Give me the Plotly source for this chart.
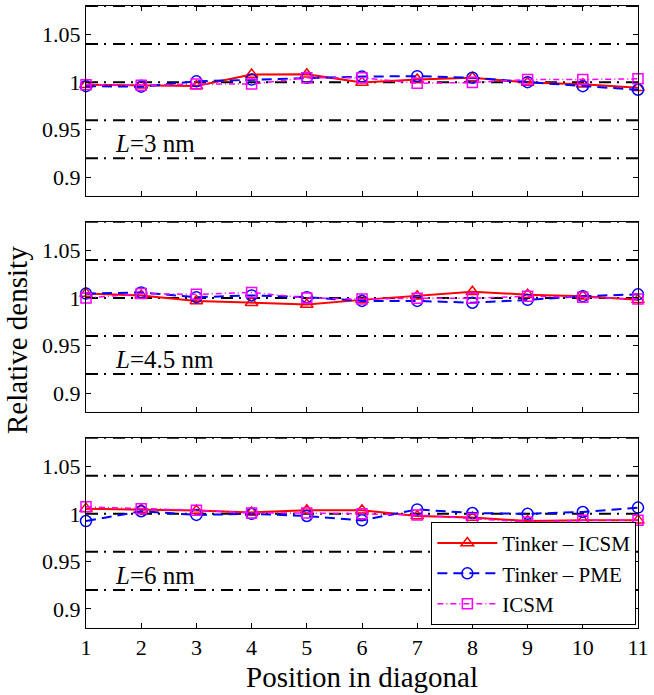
import plotly.graph_objects as go

positions = [1, 2, 3, 4, 5, 6, 7, 8, 9, 10, 11]
panel_labels = ["<i>L</i>=3 nm", "<i>L</i>=4.5 nm", "<i>L</i>=6 nm"]

# Tinker - ICSM
tinker_icsm_3 = [0.9973, 0.9966, 0.9960, 1.0080, 1.0083, 0.9995, 1.0027, 1.0046, 0.9996, 0.9977, 0.9942]
tinker_icsm_45 = [1.0046, 1.0027, 0.9969, 0.9950, 0.9931, 0.9980, 1.0019, 1.0065, 1.0035, 1.0019, 0.9980]
tinker_icsm_6 = [1.0054, 1.0046, 1.0034, 1.0015, 1.0038, 1.0038, 0.9977, 0.9962, 0.9924, 0.9931, 0.9931]
# Tinker - PME
tinker_pme_3 = [0.9958, 0.9952, 1.0008, 1.0027, 1.0046, 1.0058, 1.0063, 1.0046, 1.0000, 0.9958, 0.9920]
tinker_pme_45 = [1.0046, 1.0058, 1.0008, 1.0027, 1.0008, 0.9969, 0.9969, 0.9950, 0.9980, 1.0019, 1.0038]
tinker_pme_6 = [0.9924, 1.0027, 0.9988, 1.0000, 0.9977, 0.9931, 1.0046, 1.0008, 1.0000, 1.0019, 1.0065]
# ICSM
icsm_3 = [0.9973, 0.9966, 0.9980, 0.9980, 1.0046, 1.0046, 0.9988, 0.9996, 1.0027, 1.0027, 1.0035]
icsm_45 = [1.0000, 1.0046, 1.0038, 1.0058, 1.0000, 0.9988, 0.9996, 0.9996, 1.0019, 1.0008, 0.9988]
icsm_6 = [1.0073, 1.0054, 1.0038, 1.0008, 1.0008, 1.0000, 0.9988, 0.9950, 0.9912, 0.9931, 0.9931]

ref_levels = [0.92, 0.96, 1.00, 1.04, 1.08]
y_tickvals = [0.9, 0.95, 1.0, 1.05]
y_ticktext = ["0.9", "0.95", "1", "1.05"]
x_tickvals = positions
x_ticktext = [str(p) for p in positions]

series_names = ["Tinker \u2013 ICSM", "Tinker \u2013 PME", "ICSM"]
panels = [
    [tinker_icsm_3, tinker_pme_3, icsm_3],
    [tinker_icsm_45, tinker_pme_45, icsm_45],
    [tinker_icsm_6, tinker_pme_6, icsm_6],
]

FONT = "Liberation Serif, Times New Roman, Times, serif"
styles = [
    dict(line=dict(color="#FF0000", width=2, dash="solid"),
         marker=dict(symbol="triangle-up-open", size=11, color="#FF0000", line=dict(width=1.5, color="#FF0000"))),
    dict(line=dict(color="#0000FF", width=2, dash="10px,6px"),
         marker=dict(symbol="circle-open", size=11, color="#0000FF", line=dict(width=1.5, color="#0000FF"))),
    dict(line=dict(color="#FF00FF", width=1.5, dash="6px,3px,1px,3px"),
         marker=dict(symbol="square-open", size=10, color="#FF00FF", line=dict(width=1.5, color="#FF00FF"))),
]

domains = [[0.694, 1.0], [0.347, 0.653], [0.0, 0.306]]

fig = go.Figure()
for p, series in enumerate(panels):
    xa = "x" if p == 0 else f"x{p+1}"
    ya = "y" if p == 0 else f"y{p+1}"
    for s, vals in enumerate(series):
        fig.add_trace(go.Scatter(
            x=positions, y=vals, mode="lines+markers", name=series_names[s],
            legendgroup=series_names[s], showlegend=(p == 2),
            xaxis=xa, yaxis=ya, cliponaxis=False, **styles[s]))
    for lv in ref_levels:
        fig.add_shape(type="line", xref=f"{xa} domain", x0=0, x1=1, yref=ya, y0=lv, y1=lv,
                      line=dict(color="black", width=2, dash="12px,6px,2px,7px"), layer="below")
    fig.add_annotation(text=panel_labels[p], xref=xa, yref=ya, x=1.48, y=0.935,
                       xanchor="left", yanchor="middle", showarrow=False,
                       font=dict(family=FONT, size=25, color="black"))

axis_common = dict(showline=True, linecolor="black", linewidth=1, mirror="ticks",
                   ticks="inside", ticklen=5, tickcolor="black", showgrid=False, zeroline=False,
                   tickfont=dict(family=FONT, size=22, color="black"))
layout = dict(
    width=654, height=695,
    margin=dict(l=86, r=16, t=6, b=67),
    paper_bgcolor="white", plot_bgcolor="white",
    font=dict(family=FONT, color="black"),
    legend=dict(x=0.997, xanchor="right", y=0.005, yanchor="bottom",
                bordercolor="black", borderwidth=1, bgcolor="white",
                font=dict(family=FONT, size=21, color="black"),
                tracegroupgap=0, itemwidth=60),
)
for p in range(3):
    xk = "xaxis" if p == 0 else f"xaxis{p+1}"
    yk = "yaxis" if p == 0 else f"yaxis{p+1}"
    ya = "y" if p == 0 else f"y{p+1}"
    xa = "x" if p == 0 else f"x{p+1}"
    layout[xk] = dict(axis_common, range=[1, 11], tickvals=x_tickvals, ticktext=x_ticktext,
                      showticklabels=(p == 2), anchor=ya, domain=[0, 1])
    layout[yk] = dict(axis_common, range=[0.88, 1.08], tickvals=y_tickvals, ticktext=y_ticktext,
                      anchor=xa, domain=domains[p])
fig.update_layout(**layout)

fig.add_annotation(text="Position in diagonal", xref="paper", yref="paper", x=0.5, y=-0.078,
                   xanchor="center", yanchor="middle", showarrow=False,
                   font=dict(family=FONT, size=29, color="black"))
fig.add_annotation(text="Relative density", xref="paper", yref="paper", x=-0.125, y=0.463,
                   xanchor="center", yanchor="middle", textangle=-90, showarrow=False,
                   font=dict(family=FONT, size=29, color="black"))

fig.write_html("out.html", config={"displayModeBar": False},
               post_script="document.body.style.margin='0px';document.body.style.overflow='hidden';")
